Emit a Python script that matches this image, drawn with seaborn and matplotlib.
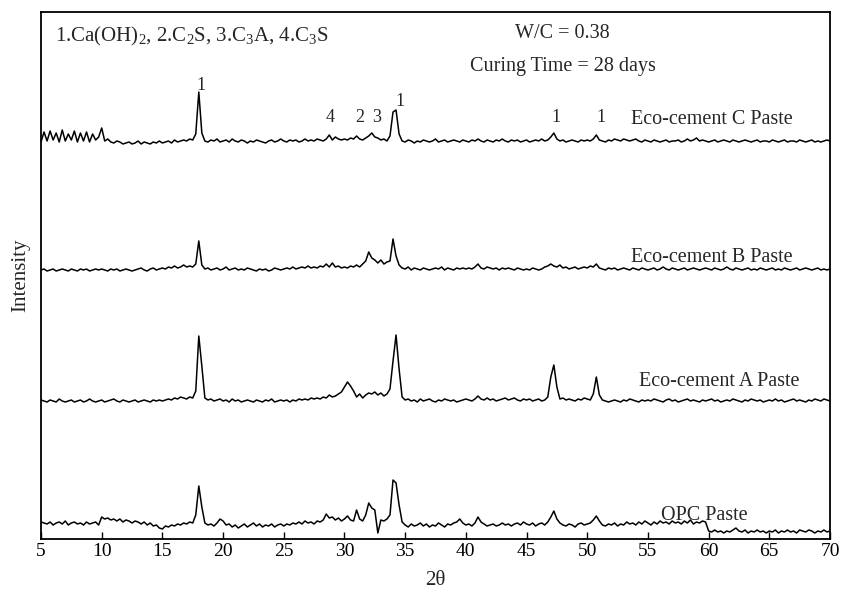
import numpy as np
import pandas as pd
import matplotlib
matplotlib.use("Agg")
import matplotlib.pyplot as plt
import seaborn as sns

# ---------------- data ----------------
two_theta = np.arange(5.0, 70.001, 0.25)   # scan grid, 2θ in degrees

samples = ["Eco-cement C Paste", "Eco-cement B Paste", "Eco-cement A Paste", "OPC Paste"]

eco_c = [
    0, 10, 1, 11, 2, 9, 0, 12, 1, 8, 2, 11, 0, 9, 1, 10, 0, 8, 2, 5,
    14, 1, 3, 0, -1, 1, 0, -2, -1, 0, -2, -1, 1, -2, 0, -1, -2, 0, -1, 1,
    -1, 0, 1, -1, 2, 0, 1, 2, 1, 3, 2, 8, 50, 9, 1, 0, 2, 1, 3, 0,
    1, 2, 0, 3, 1, 0, 2, 1, -1, 1, 0, 2, 1, 0, -1, 1, 2, 0, 1, 3,
    1, 0, 2, 1, 2, 0, 1, 3, 1, 2, 1, 3, 2, 1, 3, 7, 2, 5, 3, 2,
    3, 2, 4, 3, 6, 3, 2, 4, 6, 9, 5, 4, 2, 3, 1, 6, 30, 32, 8, 1,
    0, 2, 1, -1, 1, 0, 2, 1, 0, 1, 3, 0, 1, 2, 0, 1, 2, 1, 0, 2,
    1, 0, 2, 1, 3, 1, 0, 2, 1, 0, 2, 1, 3, 1, 0, 2, 1, 2, 0, 1,
    2, 0, 1, 2, 1, 3, 1, 2, 5, 9, 3, 1, 2, 0, 1, 2, 1, 0, 2, 1,
    2, 1, 3, 7, 2, 1, 0, 2, 1, 3, 2, 1, 3, 2, 1, 2, 3, 1, 0, 2,
    1, 0, 2, 1, 0, 1, 2, 0, 1, 1, 2, 0, 1, 3, 1, 2, 4, 1, 2, 1,
    0, 1, 2, 0, 1, 2, 1, 0, 2, 1, 0, 1, 2, 1, 0, 1, 2, 0, 1, 1,
    0, 2, 1, 0, 1, 2, 0, 1, 1, 0, 2, 1, 0, 1, 2, 0, 1, 0, 1, 2,
    1,
]

eco_b = [
    0, 1, -1, 0, 1, -1, 0, 1, 0, -1, 1, 0, -1, 1, 0, 1, -1, 0, 1, 0,
    1, 0, -1, 1, 0, 1, -1, 0, 1, 0, -1, 0, 1, 2, 0, -1, 1, 2, 0, 1,
    2, 1, 3, 2, 4, 2, 3, 5, 3, 4, 3, 6, 29, 5, 1, 2, 0, 1, 2, 0,
    1, 3, 0, 1, 2, 0, 1, 0, 2, 1, 0, -1, 1, 0, 1, -1, 0, 2, 1, 0,
    1, 2, 1, 3, 1, 2, 3, 2, 4, 2, 3, 2, 4, 3, 6, 3, 7, 3, 4, 2,
    3, 2, 4, 3, 5, 3, 6, 9, 18, 12, 10, 7, 10, 6, 8, 9, 31, 14, 5, 2,
    1, 3, 0, 2, 1, 0, 2, 1, 0, 1, 2, 1, 3, 0, 2, 1, 0, 2, 1, 2,
    1, 2, 1, 3, 6, 2, 1, 3, 2, 1, 2, 0, 2, 1, 2, 1, 0, 2, 1, 0,
    1, 0, 2, 1, 0, 1, 3, 4, 6, 4, 3, 5, 2, 3, 1, 2, 3, 1, 2, 3,
    2, 4, 3, 6, 2, 1, 0, 2, 1, 2, 0, 1, 2, 1, 0, 2, 1, 0, 2, 1,
    0, 1, 2, 0, 1, 3, 1, 0, 2, 1, 0, 1, 2, 0, 1, 2, 1, 0, 1, 2,
    1, 0, 2, 1, 0, 1, 3, 1, 0, 2, 1, 0, 1, 2, 0, 1, 0, 2, 1, 0,
    1, 2, 0, 1, 0, 2, 1, 0, 1, 2, 0, 1, 2, 1, 0, 1, 2, 0, 1, 0,
    1,
]

eco_a = [
    1, 0, -1, 1, 0, -1, 2, 0, -1, 0, 1, -1, 0, 1, -1, 0, 2, 0, -1, 0,
    1, -1, 0, 1, 2, 0, -1, 1, 0, -1, 0, 1, -1, 0, 1, 0, -1, 1, 0, 1,
    0, 1, 2, 1, 3, 2, 4, 3, 2, 4, 3, 10, 65, 35, 3, 1, 2, 0, 1, 2,
    0, 1, -1, 2, 0, 1, -1, 0, 1, 0, -1, 1, 0, -1, 1, 0, 2, -1, 0, 1,
    0, 1, -1, 1, 0, 2, 1, 2, 1, 3, 2, 3, 2, 4, 3, 6, 4, 5, 7, 9,
    14, 19, 15, 10, 4, 7, 3, 6, 8, 7, 9, 6, 8, 5, 7, 12, 40, 66, 32, 4,
    1, 2, 0, 1, -1, 2, 0, 1, 2, 0, -1, 1, 0, 2, 1, 0, 1, -1, 0, 1,
    2, 1, 0, 2, 5, 2, 1, 3, 1, 2, 0, 1, 2, 3, 1, 2, 3, 1, 0, 2,
    1, 2, 0, 1, 2, 0, 1, 4, 24, 36, 14, 2, 3, 1, 2, 1, 0, 2, 1, 3,
    2, 1, 7, 24, 6, 1, 0, -1, 0, 1, 0, -1, 1, 0, 2, 1, 0, -1, 1, 0,
    1, 0, 2, 1, 0, -1, 1, 2, 0, 1, -1, 0, 1, 2, 0, 1, 0, -1, 1, 0,
    1, 2, 0, 1, -1, 0, 1, 0, 2, 1, 0, -1, 1, 0, 2, 1, 0, 1, -1, 0,
    1, 0, 2, 0, 1, -1, 0, 1, 2, 0, 1, 0, -1, 1, 0, 2, 1, 0, 2, 1,
    0,
]

opc = [
    1, 0, -1, 1, -2, 0, 1, -1, 2, -2, 0, 1, -1, 0, -2, 1, -1, 0, 1, -2,
    6, 4, 5, 3, 4, 2, 4, 1, 3, 2, 0, 2, 1, -1, 1, -2, 0, -3, -2, -5,
    -6, -3, -4, -2, -3, -1, -2, 0, -1, 1, 0, 8, 37, 16, 0, -2, -1, -3, 0, 4,
    2, -2, -1, -4, -2, -5, -3, -1, -4, -2, 0, -3, -1, -4, -2, -3, -1, -4, -2, -1,
    -3, -1, -2, 0, -1, 1, -1, 2, 0, 1, -1, 2, 1, 3, 9, 5, 6, 3, 5, 2,
    4, 7, 3, 2, 13, 4, 2, 8, 20, 15, 13, -10, 3, 2, 4, 8, 43, 40, 18, 1,
    -2, -4, -1, -3, -2, 0, -3, -1, -4, -2, -3, 0, -2, -4, -1, -2, 0, 1, 4, 0,
    -2, -1, -3, 0, 6, 1, -1, -3, -2, -1, -3, -2, 0, -2, -1, -3, -1, 0, -2, 1,
    -1, -2, 0, -3, -1, 0, -2, 1, 6, 12, 4, 0, -2, -3, -1, -2, -4, -1, 0, -2,
    -1, 0, 3, 7, 2, -2, -3, -1, -2, 0, -3, -1, -2, 1, -1, 0, -2, 1, -1, 2,
    0, -2, 1, -1, 2, 0, 1, -1, 2, 0, 1, -1, 2, 0, 3, -1, 1, 0, 2, 1,
    -8, -9, -7, -9, -8, -10, -8, -9, -7, -5, -8, -9, -7, -10, -8, -9, -7, -9, -8, -10,
    -8, -9, -7, -10, -8, -9, -7, -9, -8, -10, -7, -8, -9, -7, -8, -10, -8, -9, -7, -9,
    -8,
]

peak_labels = ["1", "4", "2", "3", "1", "1", "1"]
peak_label_theta = [18.17, 28.79, 31.26, 32.65, 34.55, 47.39, 51.17]

# ---------------- layout (vertical stacking offsets and label spots) ----------------
offsets = [397, 269, 138, 16]
label_pos = [(53.6, 419), (53.6, 281), (54.3, 158), (56.1, 24)]
peak_label_y = [454, 422, 422, 422, 438, 422, 422]

frames = []
for name, vals, off in zip(samples, [eco_c, eco_b, eco_a, opc], offsets):
    frames.append(pd.DataFrame({"two_theta": two_theta,
                                "intensity": np.asarray(vals, float) + off,
                                "sample": name}))
df = pd.concat(frames, ignore_index=True)

sns.set_style("white")
plt.rcParams["font.family"] = ["Liberation Serif", "DejaVu Serif"]
plt.rcParams["mathtext.fontset"] = "custom"
plt.rcParams["mathtext.rm"] = "Liberation Serif"
plt.rcParams["mathtext.it"] = "Liberation Serif:italic"

fig = plt.figure(figsize=(8.42, 5.92), dpi=100)
ax = fig.add_axes([41 / 842, 53 / 592, 789 / 842, 527 / 592])

sns.lineplot(data=df, x="two_theta", y="intensity", hue="sample",
             palette=["black"] * 4, estimator=None, sort=False,
             legend=False, linewidth=1.1, ax=ax)

ax.set_xlim(5, 70)
ax.set_ylim(0, 527)
ax.set_xticks(np.arange(5, 71, 5))
ax.set_yticks([])
ax.tick_params(axis="x", direction="in", length=5, width=1, labelsize=14,
               pad=3, bottom=True, top=False, colors="black")
for s in ax.spines.values():
    s.set_color("black")
    s.set_linewidth(1.3)
    s.set_visible(True)

ax.set_xlabel("2θ", fontsize=15, labelpad=8)
ax.set_ylabel("Intensity", fontsize=15, labelpad=8)

for name, (tx, ty) in zip(samples, label_pos):
    ax.text(tx, ty, name, fontsize=14.5, ha="left", va="center")

for lab, tx, ty in zip(peak_labels, peak_label_theta, peak_label_y):
    ax.text(tx, ty, lab, fontsize=13, ha="center", va="center")

ax.text(6.15, 503, "1.Ca(OH)$_2$, 2.C$_2$S, 3.C$_3$A, 4.C$_3$S",
        fontsize=15, ha="left", va="center")
ax.text(47.96, 506, "W/C = 0.38", fontsize=14.5, ha="center", va="center")
ax.text(47.96, 472, "Curing Time = 28 days", fontsize=14.5, ha="center", va="center")

fig.savefig("out.png", dpi=100)
